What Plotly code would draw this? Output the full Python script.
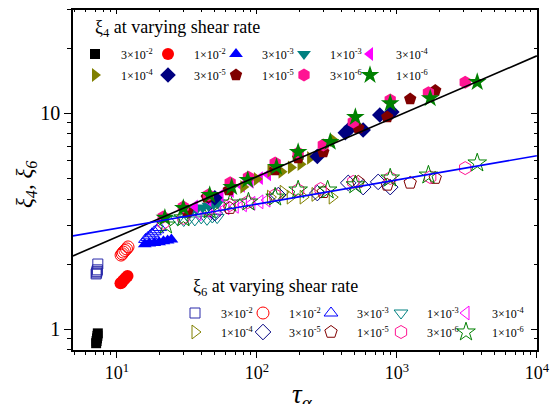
import plotly.graph_objects as go

# ---------------- data ----------------
rate_labels = ["3×10<sup>-2</sup>", "1×10<sup>-2</sup>", "3×10<sup>-3</sup>", "1×10<sup>-3</sup>",
               "3×10<sup>-4</sup>", "1×10<sup>-4</sup>", "3×10<sup>-5</sup>", "1×10<sup>-5</sup>",
               "3×10<sup>-6</sup>", "1×10<sup>-6</sup>"]

# xi4 (filled) per shear rate
tau4_3e2 = [7.1, 7.15, 7.2, 7.25, 7.3]
xi4_3e2 = [0.86, 0.88, 0.905, 0.93, 0.955]
tau4_1e2 = [10.6, 10.8, 11.0, 11.3, 11.6, 11.9]
xi4_1e2 = [1.63, 1.64, 1.67, 1.70, 1.73, 1.76]
tau4_3e3 = [15.8, 17.0, 18.5, 20.0, 21.5, 23.0, 24.5]
xi4_3e3 = [2.47, 2.49, 2.50, 2.52, 2.55, 2.57, 2.60]
tau4_1e3 = [31, 34, 37, 41, 45, 49, 53]
xi4_1e3 = [3.45, 3.52, 3.58, 3.65, 3.72, 3.78, 3.85]
tau4_3e4 = [36, 45, 55, 65, 78, 90, 105, 120]
xi4_3e4 = [3.7, 3.95, 4.15, 4.35, 4.6, 4.8, 5.0, 5.2]
tau4_1e4 = [80, 100, 125, 150, 175, 205, 240, 290, 350]
xi4_1e4 = [4.55, 4.95, 5.4, 5.35, 5.6, 5.8, 6.2, 6.7, 7.5]
tau4_3e5 = [45, 50, 270, 428, 470, 574, 755, 920]
xi4_3e5 = [4.12, 4.05, 6.3, 8.1, 8.6, 8.35, 9.8, 10.1]
tau4_1e5 = [31.8, 44, 63, 135, 197, 298, 530, 853, 1245, 1879]
xi4_1e5 = [3.48, 4.08, 4.4, 5.45, 6.19, 6.6, 8.52, 9.58, 11.6, 12.7]
tau4_3e6 = [21.4, 29.8, 45, 64.4, 87, 135, 197, 298, 488, 896, 1680, 3077]
xi4_3e6 = [3.3, 3.67, 4.17, 4.75, 5.05, 5.87, 6.53, 7.12, 9.08, 11.5, 12.4, 13.9]
tau4_1e6 = [22, 29.8, 46, 66, 86, 138, 197, 334, 505, 896, 1730, 3750]
xi4_1e6 = [3.27, 3.63, 4.17, 4.54, 4.9, 5.63, 6.6, 7.35, 9.58, 11.1, 11.7, 13.9]

# xi6 (open) per shear rate
tau6_3e2 = [7.1, 7.15, 7.2, 7.25, 7.3]
xi6_3e2 = [1.80, 1.82, 1.85, 1.88, 2.0]
tau6_1e2 = [10.7, 10.9, 11.1, 11.4, 11.7, 12.0]
xi6_1e2 = [2.20, 2.23, 2.27, 2.31, 2.35, 2.40]
tau6_3e3 = [16.0, 16.6, 17.2, 17.8, 18.5, 19.3, 20.2]
xi6_3e3 = [2.60, 2.65, 2.70, 2.76, 2.82, 2.88, 2.95]
tau6_1e3 = [27, 30, 33, 36, 40, 44, 48, 52]
xi6_1e3 = [3.22, 3.18, 3.25, 3.20, 3.27, 3.22, 3.30, 3.28]
tau6_3e4 = [38, 45, 52, 60, 70, 80, 92, 105, 118]
xi6_3e4 = [3.42, 3.50, 3.58, 3.64, 3.70, 3.76, 3.82, 3.88, 3.95]
tau6_1e4 = [125, 154, 173, 214, 260, 345]
xi6_1e4 = [4.08, 4.3, 4.08, 4.08, 4.2, 4.08]
tau6_3e5 = [50, 142, 270, 449, 574, 735, 896]
xi6_3e5 = [3.44, 4.17, 4.26, 4.75, 4.54, 4.8, 4.54]
tau6_1e5 = [64, 298, 530, 853, 1245, 1879]
xi6_1e5 = [3.63, 4.3, 4.8, 4.65, 4.75, 5.0]
tau6_3e6 = [21.4, 29.8, 45, 64, 86, 135, 197, 285, 488, 896, 1730, 3077]
xi6_3e6 = [3.1, 3.27, 3.56, 3.75, 3.87, 4.17, 4.4, 4.45, 4.8, 5.0, 5.05, 5.56]
tau6_1e6 = [22.4, 29.8, 46, 64.4, 87, 135, 197, 320, 505, 896, 1680, 3750]
xi6_1e6 = [3.03, 3.27, 3.56, 3.83, 3.87, 4.08, 4.4, 4.4, 4.65, 5.0, 5.16, 5.87]

# fit lines (end points)
fit4_tau = [4.85, 10000]
fit4_xi = [2.18, 18.4]
fit6_tau = [4.85, 10000]
fit6_xi = [2.70, 6.34]

xtick_vals = [10, 100, 1000, 10000]
xtick_text = ["10<sup>1</sup>", "10<sup>2</sup>", "10<sup>3</sup>", "10<sup>4</sup>"]

# ---------------- styles ----------------
colors4 = ["#000000", "#FF0000", "#0000FF", "#008080", "#FF00FF",
           "#808000", "#000080", "#800000", "#FF1493", "#008000"]
colors6 = ["#2a2aaa", "#FF0000", "#0000FF", "#008080", "#FF00FF",
           "#808000", "#000080", "#800000", "#FF1493", "#008000"]
symbols = ["square", "circle", "triangle-up", "triangle-down", "triangle-left",
           "triangle-right", "diamond", "pentagon", "hexagon", "star"]
sizes = [10, 12, 12, 12, 12, 12, 12, 13, 13, 14]

xi4_sets = [(tau4_3e2, xi4_3e2), (tau4_1e2, xi4_1e2), (tau4_3e3, xi4_3e3), (tau4_1e3, xi4_1e3),
            (tau4_3e4, xi4_3e4), (tau4_1e4, xi4_1e4), (tau4_3e5, xi4_3e5), (tau4_1e5, xi4_1e5),
            (tau4_3e6, xi4_3e6), (tau4_1e6, xi4_1e6)]
xi6_sets = [(tau6_3e2, xi6_3e2), (tau6_1e2, xi6_1e2), (tau6_3e3, xi6_3e3), (tau6_1e3, xi6_1e3),
            (tau6_3e4, xi6_3e4), (tau6_1e4, xi6_1e4), (tau6_3e5, xi6_3e5), (tau6_1e5, xi6_1e5),
            (tau6_3e6, xi6_3e6), (tau6_1e6, xi6_1e6)]

FONT = "Liberation Serif"
NB = "\u00a0\u00a0"

# plot-area geometry (pixels) used only for legend/annotation placement
L, T, W, H = 73, 10, 464, 340
def px2paper(px, py):
    return (px - 21 - L) / W, (T + H - py) / H

top_cols = [96, 169, 237, 305, 371]
top_rows = [54, 75]
bot_cols = [196, 264, 332, 402, 467]
bot_rows = [313, 332]

fig = go.Figure()
legends = {}

def legend_name(k):
    return "legend" if k == 1 else f"legend{k}"

for i, (tx, ty) in enumerate(xi6_sets):
    k = 11 + i
    fig.add_trace(go.Scatter(
        x=tx, y=ty, mode="markers", name=NB + rate_labels[i], legend=legend_name(k),
        marker=dict(symbol=symbols[i] + "-open", size=sizes[i], color=colors6[i],
                    line=dict(width=1, color=colors6[i]))))
    legends[legend_name(k)] = px2paper(bot_cols[i % 5], bot_rows[i // 5])

for i, (tx, ty) in enumerate(xi4_sets):
    k = 1 + i
    fig.add_trace(go.Scatter(
        x=tx, y=ty, mode="markers", name=NB + rate_labels[i], legend=legend_name(k),
        marker=dict(symbol=symbols[i], size=sizes[i], color=colors4[i],
                    line=dict(width=0))))
    legends[legend_name(k)] = px2paper(top_cols[i % 5], top_rows[i // 5])

fig.add_trace(go.Scatter(x=fit4_tau, y=fit4_xi, mode="lines", showlegend=False,
                         line=dict(color="black", width=1.6)))
fig.add_trace(go.Scatter(x=fit6_tau, y=fit6_xi, mode="lines", showlegend=False,
                         line=dict(color="#0000FF", width=1.6)))
# mirror axes (top/right ticks inside)
fig.add_trace(go.Scatter(x=[None], y=[None], xaxis="x2", yaxis="y2", showlegend=False,
                         hoverinfo="skip"))

xr = [0.686, 4.001]
yr = [-0.097, 1.477]

for name, (lx, ly) in legends.items():
    fig.update_layout({name: dict(x=lx, y=ly, xanchor="left", yanchor="middle",
                                  orientation="h", bgcolor="rgba(0,0,0,0)", borderwidth=0,
                                  font=dict(family=FONT, size=12, color="black"),
                                  itemsizing="trace")})

fig.update_layout(
    width=550, height=404,
    margin=dict(l=L, r=550 - L - W, t=T, b=404 - T - H, autoexpand=False),
    paper_bgcolor="white", plot_bgcolor="white",
    font=dict(family=FONT, color="black"),
    xaxis=dict(type="log", range=xr, tickvals=xtick_vals, ticktext=xtick_text, automargin=False,
               ticklabeloverflow="allow",
               ticks="outside", ticklen=6, tickwidth=1, tickcolor="black",
               minor=dict(ticks="outside", ticklen=3, dtick="D1", tickcolor="black", showgrid=False),
               showline=True, linecolor="black", linewidth=1.5, showgrid=False, zeroline=False,
               tickfont=dict(size=18, family=FONT)),
    yaxis=dict(type="log", range=yr, dtick=1, automargin=False,
               ticks="outside", ticklen=7, tickwidth=1, tickcolor="black",
               minor=dict(ticks="outside", ticklen=4, dtick="D1", tickcolor="black", showgrid=False),
               showline=True, linecolor="black", linewidth=1.5, showgrid=False, zeroline=False,
               tickfont=dict(size=20, family=FONT)),
    xaxis2=dict(type="log", range=xr, overlaying="x", side="top", dtick=1, automargin=False,
                ticks="inside", ticklen=4, tickcolor="black", showticklabels=False,
                minor=dict(ticks="inside", ticklen=2, dtick="D1", tickcolor="black"),
                showline=True, linecolor="black", linewidth=1.5, showgrid=False, zeroline=False),
    yaxis2=dict(type="log", range=yr, overlaying="y", side="right", dtick=1, automargin=False,
                ticks="inside", ticklen=6, tickcolor="black", showticklabels=False,
                minor=dict(ticks="inside", ticklen=3, dtick="D1", tickcolor="black"),
                showline=True, linecolor="black", linewidth=1.5, showgrid=False, zeroline=False),
    annotations=[
        dict(text="<i>τ<sub>α</sub></i>", xref="paper", yref="paper",
             x=(302 - L) / W, y=(T + H - 377) / H, xanchor="center", yanchor="top",
             showarrow=False, font=dict(family=FONT, size=27, color="black")),
        dict(text="<i>ξ<sub>4</sub>, ξ<sub>6</sub></i>", xref="paper", yref="paper",
             x=(26 - L) / W, y=(T + H - 185) / H, xanchor="center", yanchor="middle",
             textangle=-90, showarrow=False, font=dict(family=FONT, size=23, color="black")),
        dict(text="ξ<sub>4</sub> at varying shear rate", xref="paper", yref="paper",
             x=(93 - L) / W, y=(T + H - 28) / H, xanchor="left", yanchor="middle", showarrow=False,
             font=dict(family=FONT, size=18, color="black")),
        dict(text="ξ<sub>6</sub> at varying shear rate", xref="paper", yref="paper",
             x=(191 - L) / W, y=(T + H - 287) / H, xanchor="left", yanchor="middle", showarrow=False,
             font=dict(family=FONT, size=18, color="black")),
    ],
)

fig.write_html("out.html")
